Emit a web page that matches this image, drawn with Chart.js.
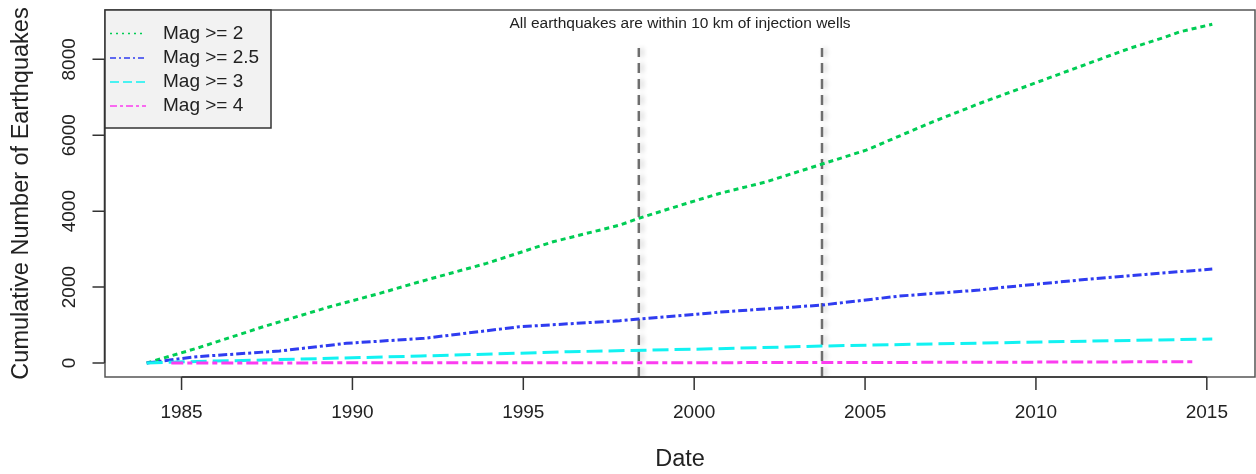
<!DOCTYPE html>
<html lang="en">
<head>
  <meta charset="UTF-8" />
  <title>Cumulative earthquakes near injection wells</title>
  <script src="https://cdn.jsdelivr.net/npm/chart.js"></script>
  <style>
    body { margin: 0; background: #fff; }
    #wrap { width: 1256px; height: 474px; position: relative; }
  </style>
</head>
<body>
  <div id="wrap"><canvas id="quakeChart"></canvas></div>

  <script>
    // cumulative counts (decimal year, count) per magnitude threshold
    const mag2Years   = [1983.98, 1985.44, 1987.39, 1989.34, 1990.8, 1991.97, 1993.92, 1995.87, 1997.82, 1998.37, 1999.77, 2000.74, 2002.11, 2003.73, 2005.03, 2006.98, 2008.34, 2009.8, 2011.26, 2012.72, 2013.8, 2014.19, 2015.16];
    const mag2Counts  = [0, 386, 955, 1482, 1834, 2140, 2623, 3193, 3632, 3808, 4203, 4466, 4772, 5237, 5606, 6351, 6834, 7317, 7800, 8282, 8589, 8720, 8923];

    const mag25Years  = [1983.98, 1985.44, 1987.87, 1989.82, 1992.1, 1994.89, 1997.82, 1998.37, 2000.16, 2000.74, 2003.73, 2006.0, 2008.34, 2008.93, 2011.26, 2013.2, 2015.16];
    const mag25Counts = [0, 166, 316, 518, 650, 955, 1113, 1158, 1290, 1340, 1525, 1763, 1921, 1982, 2184, 2334, 2474];

    const mag3Years   = [1983.98, 1985.44, 1987.39, 1992.0, 1996.35, 2000.5, 2003.73, 2008.93, 2015.16];
    const mag3Counts  = [0, 40, 79, 184, 297, 372, 447, 534, 632];

    const mag4Years   = [1984.7, 1990.0, 2000.0, 2008.0, 2014.63];
    const mag4Counts  = [0, 4, 8, 18, 34];

    // dates marked with vertical dashed lines
    const wellDates = [1998.38, 2003.74];
    const wellLineTop = 8300;

    const xTicks = [1985, 1990, 1995, 2000, 2005, 2010, 2015];
    const yTicks = [0, 2000, 4000, 6000, 8000];

    const seriesLabels = ['Mag >= 2', 'Mag >= 2.5', 'Mag >= 3', 'Mag >= 4'];

    const xMin = 1982.76, xMax = 2016.41;
    const yMin = -369, yMax = 9299;

    const FONT = '"Liberation Sans", Arial, Helvetica, sans-serif';
    const colors = ['#00cd55', '#2f3cf0', '#12f2f2', '#fb3cf0'];
    const dashes = [[5, 4], [9, 3, 3, 3], [16, 6], [12, 4, 5, 4]];
    const legendDashes = [[2, 4], [6, 3, 2, 3], [9, 4], [7, 3, 3, 3]];

    function toPoints(xs, ys) {
      return xs.map((x, i) => ({ x: x, y: ys[i] }));
    }

    const seriesData = [
      toPoints(mag2Years, mag2Counts),
      toPoints(mag25Years, mag25Counts),
      toPoints(mag3Years, mag3Counts),
      toPoints(mag4Years, mag4Counts)
    ];

    const datasets = seriesData.map((pts, i) => ({
      label: seriesLabels[i],
      data: pts,
      borderColor: colors[i],
      borderWidth: 3,
      borderDash: dashes[i],
      pointRadius: 0,
      tension: 0,
      fill: false,
      order: 4 - i
    }));

    wellDates.forEach(d => {
      datasets.push({
        label: 'well',
        data: [{ x: d, y: yMin }, { x: d, y: wellLineTop }],
        borderColor: '#6e6e6e',
        borderWidth: 2.5,
        borderDash: [10, 6],
        pointRadius: 0,
        fill: false,
        order: 10,
        isWellLine: true
      });
    });

    // soft halo behind the dashed marker lines
    const haloPlugin = {
      id: 'halo',
      beforeDatasetDraw(chart, args) {
        if (!args.meta._dataset.isWellLine) return;
        const ctx = chart.ctx;
        ctx.save();
        ctx.shadowColor = 'rgba(0,0,0,0.22)';
        ctx.shadowBlur = 5;
        ctx.shadowOffsetX = 3;
      },
      afterDatasetDraw(chart, args) {
        if (!args.meta._dataset.isWellLine) return;
        chart.ctx.restore();
      }
    };

    // R-style frame, axes, titles and legend
    const framePlugin = {
      id: 'frame',
      afterDraw(chart) {
        const ctx = chart.ctx;
        const a = chart.chartArea;
        const xs = chart.scales.x, ys = chart.scales.y;
        ctx.save();

        // plot box
        ctx.strokeStyle = '#555';
        ctx.lineWidth = 1.5;
        ctx.setLineDash([]);
        ctx.strokeRect(a.left, a.top, a.right - a.left, a.bottom - a.top);

        ctx.strokeStyle = '#333';
        ctx.lineWidth = 1.5;
        // y axis
        const y0 = ys.getPixelForValue(yTicks[0]);
        const y1 = ys.getPixelForValue(yTicks[yTicks.length - 1]);
        ctx.beginPath();
        ctx.moveTo(a.left - 0.5, y0);
        ctx.lineTo(a.left - 0.5, y1);
        yTicks.forEach(v => {
          const py = ys.getPixelForValue(v);
          ctx.moveTo(a.left - 12.5, py);
          ctx.lineTo(a.left - 0.5, py);
        });
        // x axis
        const x0 = xs.getPixelForValue(xTicks[0]);
        const x1 = xs.getPixelForValue(xTicks[xTicks.length - 1]);
        ctx.moveTo(x0, a.bottom);
        ctx.lineTo(x1, a.bottom);
        xTicks.forEach(v => {
          const px = xs.getPixelForValue(v);
          ctx.moveTo(px, a.bottom);
          ctx.lineTo(px, a.bottom + 13);
        });
        ctx.stroke();

        // tick labels
        ctx.fillStyle = '#222';
        ctx.font = '19px ' + FONT;
        ctx.textAlign = 'center';
        ctx.textBaseline = 'middle';
        xTicks.forEach(v => {
          ctx.fillText(String(v), xs.getPixelForValue(v), 413);
        });
        yTicks.forEach(v => {
          const py = ys.getPixelForValue(v);
          ctx.save();
          ctx.translate(70, py);
          ctx.rotate(-Math.PI / 2);
          ctx.fillText(String(v), 0, 0);
          ctx.restore();
        });

        // axis titles
        const cx = (a.left + a.right) / 2;
        const cy = (a.top + a.bottom) / 2;
        ctx.font = '23.5px ' + FONT;
        ctx.fillText('Date', cx, 460);
        ctx.save();
        ctx.translate(22, cy);
        ctx.rotate(-Math.PI / 2);
        ctx.fillText('Cumulative Number of Earthquakes', 0, 0);
        ctx.restore();

        // note at top of plot
        ctx.font = '15.5px ' + FONT;
        ctx.fillText('All earthquakes are within 10 km of injection wells', cx, 24);

        // legend
        const lx = a.left, ly = a.top, lw = 166, lh = 118;
        ctx.fillStyle = '#f2f2f2';
        ctx.fillRect(lx, ly, lw, lh);
        ctx.strokeStyle = '#333';
        ctx.lineWidth = 1.5;
        ctx.strokeRect(lx, ly, lw, lh);
        const rows = [33.5, 58, 82, 106];
        ctx.textAlign = 'left';
        ctx.font = '19px ' + FONT;
        seriesLabels.forEach((lab, i) => {
          ctx.strokeStyle = colors[i];
          ctx.lineWidth = 1.5;
          ctx.setLineDash(legendDashes[i]);
          ctx.beginPath();
          ctx.moveTo(lx + 5, rows[i]);
          ctx.lineTo(lx + 41, rows[i]);
          ctx.stroke();
          ctx.setLineDash([]);
          ctx.fillStyle = '#222';
          ctx.fillText(lab, lx + 58, rows[i]);
        });

        ctx.restore();
      }
    };

    new Chart(document.getElementById('quakeChart'), {
      type: 'line',
      data: { datasets: datasets },
      options: {
        responsive: true,
        maintainAspectRatio: false,
        animation: false,
        layout: { padding: { left: 105, top: 10, right: 1, bottom: 97 } },
        plugins: {
          legend: { display: false },
          tooltip: { enabled: false }
        },
        scales: {
          x: { type: 'linear', min: xMin, max: xMax, display: false },
          y: { type: 'linear', min: yMin, max: yMax, display: false }
        }
      },
      plugins: [haloPlugin, framePlugin]
    });
  </script>
</body>
</html>
